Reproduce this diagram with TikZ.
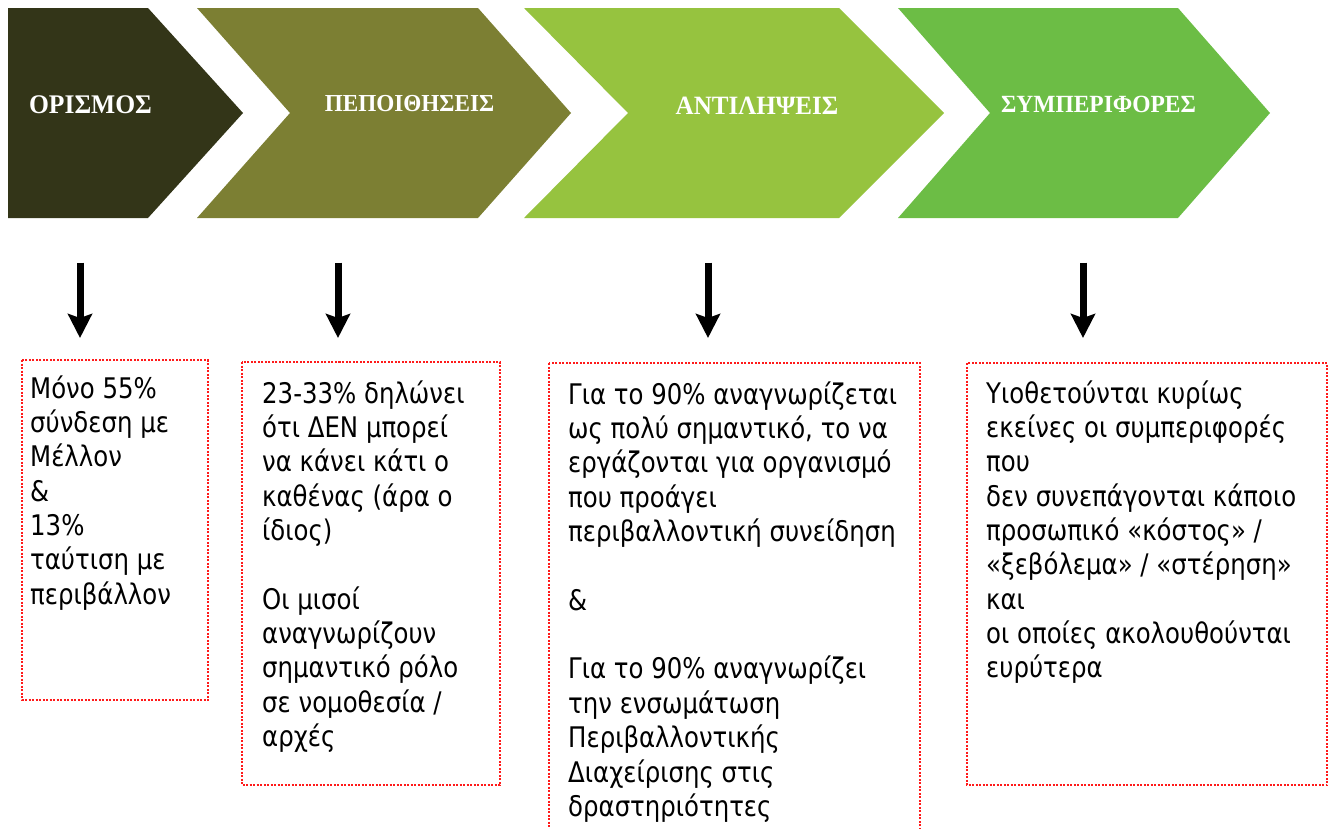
\documentclass[tikz,border=0pt]{standalone}
\usepackage{fontspec}
\usetikzlibrary{arrows.meta}
\newfontfamily\bodyfont[FakeStretch=0.86]{DejaVu Sans}
\newfontfamily\headfont[FakeStretch=0.95]{Liberation Serif}
\definecolor{cA}{HTML}{333518}
\definecolor{cB}{HTML}{7C7F33}
\definecolor{cC}{HTML}{96C33F}
\definecolor{cD}{HTML}{6CBD45}
\definecolor{boxred}{HTML}{FF1A1A}
\newcommand{\lines}[1]{\begin{tabular}[t]{@{}l@{}}#1\end{tabular}}
\tikzset{
  head/.style={text=white, inner sep=0},
  body/.style={anchor=base west, inner sep=0, font=\bodyfont\fontsize{28.5}{34.5}\selectfont},
  dotbox/.style={draw=boxred, line width=2bp, dash pattern=on 2bp off 1.5bp},
  down/.style={line width=7bp, -{Stealth[width=24bp,length=24bp,inset=4bp]}}
}
\begin{document}
\begin{tikzpicture}[x=1bp,y=-1bp]
\useasboundingbox (0,0) rectangle (1335,828);
% chevrons
\fill[cA] (8,8) -- (148,8) -- (243,113) -- (148,218) -- (8,218) -- cycle;
\fill[cB] (197,8) -- (478,8) -- (571,113) -- (478,218) -- (197,218) -- (290,113) -- cycle;
\fill[cC] (524,8) -- (839,8) -- (944,113) -- (839,218) -- (524,218) -- (628,113) -- cycle;
\fill[cD] (898,8) -- (1178,8) -- (1270,113) -- (1178,218) -- (898,218) -- (990,113) -- cycle;
\node[head, font=\headfont\bfseries\fontsize{27}{30}\selectfont] (h1) at (90.5,105) {ΟΡΙΣΜΟΣ};
\node[head, font=\headfont\bfseries\fontsize{24.5}{28}\selectfont] (h2) at (409.5,104) {ΠΕΠΟΙΘΗΣΕΙΣ};
\node[head, font=\headfont\bfseries\fontsize{26.5}{30}\selectfont] (h3) at (757,105.3) {ΑΝΤΙΛΗΨΕΙΣ};
\node[head, font=\headfont\bfseries\fontsize{24.8}{28}\selectfont] (h4) at (1098.5,104.5) {ΣΥΜΠΕΡΙΦΟΡΕΣ};
% arrows
\coordinate (a1s) at (80,262.5); \coordinate (a1e) at (80,338);
\coordinate (a2s) at (338,262.5); \coordinate (a2e) at (338,338);
\coordinate (a3s) at (708,262.5); \coordinate (a3e) at (708,338);
\coordinate (a4s) at (1083,262.5); \coordinate (a4e) at (1083,338);
\draw[down] (a1s) -- (a1e);
\draw[down] (a2s) -- (a2e);
\draw[down] (a3s) -- (a3e);
\draw[down] (a4s) -- (a4e);
% boxes
\draw[dotbox] (22,360) rectangle (208,700);
\draw[dotbox] (242,362) rectangle (500,785);
\draw[dotbox] (549,363) rectangle (920,850);
\draw[dotbox] (967,363) rectangle (1327,785);
\node[body] (t1) at (30,398) {\lines{Μόνο 55\%\\σύνδεση με\\Μέλλον\\\&\\13\%\\ταύτιση με\\περιβάλλον}};
\node[body] (t2) at (262,403) {\lines{23-33\% δηλώνει\\ότι ΔΕΝ μπορεί\\να κάνει κάτι ο\\καθένας (άρα ο\\ίδιος)\\ \\Οι μισοί\\αναγνωρίζουν\\σημαντικό ρόλο\\σε νομοθεσία /\\αρχές}};
\node[body] (t3) at (568,404) {\lines{Για το 90\% αναγνωρίζεται\\ως πολύ σημαντικό, το να\\εργάζονται για οργανισμό\\που προάγει\\περιβαλλοντική συνείδηση\\ \\\&\\ \\Για το 90\% αναγνωρίζει\\την ενσωμάτωση\\Περιβαλλοντικής\\Διαχείρισης στις\\δραστηριότητες}};
\node[body] (t4) at (986,403) {\lines{Υιοθετούνται κυρίως\\εκείνες οι συμπεριφορές\\που\\δεν συνεπάγονται κάποιο\\προσωπικό «κόστος» /\\«ξεβόλεμα» / «στέρηση»\\και\\οι οποίες ακολουθούνται\\ευρύτερα}};
\end{tikzpicture}
\end{document}
